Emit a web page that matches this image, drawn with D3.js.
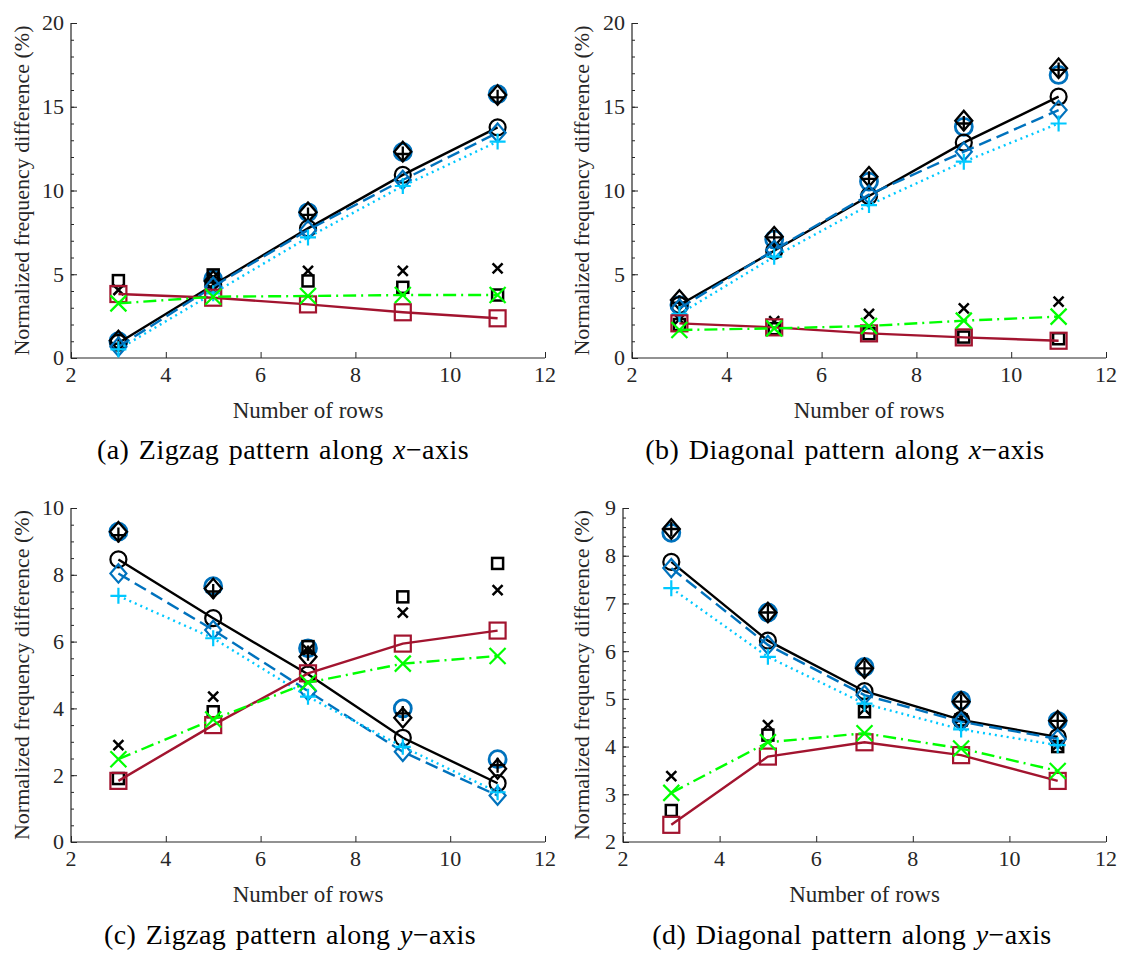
<!DOCTYPE html>
<html>
<head>
<meta charset="utf-8">
<script src="https://cdn.jsdelivr.net/npm/d3@7"></script>
<style>
  html, body { margin: 0; padding: 0; background: #fff; }
  svg { display: block; }
  .tick-label, .axis-title { font-family: "Liberation Serif", serif; fill: #262626; }
  .caption { font-family: "Liberation Serif", serif; fill: #000; }
</style>
</head>
<body>
<svg id="fig" width="1123" height="954"></svg>
<script>
// Number of rows on the x axis (shared by all four panels)
const rows = [3, 5, 7, 9, 11];
const xTicks = [2, 4, 6, 8, 10, 12];

// (a) Zigzag pattern along x-axis
const aCircle     = [0.90, 4.36, 7.74, 10.93, 13.77];
const aDiamond    = [0.67, 4.26, 7.64, 10.63, 13.45];
const aPlus       = [0.52, 3.86, 7.20, 10.27, 12.92];
const aSquare     = [3.82, 3.60, 3.20, 2.73, 2.37];
const aCross      = [3.26, 3.66, 3.70, 3.76, 3.76];
const aRefCircle  = [1.00, 4.70, 8.70, 12.30, 15.75];
const aRefDiamond = [1.05, 4.60, 8.70, 12.32, 15.70];
const aRefPlus    = [0.85, 4.50, 8.54, 12.18, 15.56];
const aRefSquare  = [4.62, 4.96, 4.60, 4.22, 3.76];
const aRefCross   = [4.06, 4.80, 5.20, 5.20, 5.35];

// (b) Diagonal pattern along x-axis
const bCircle     = [3.16, 6.40, 9.67, 12.86, 15.60];
const bDiamond    = [2.96, 6.45, 9.75, 12.32, 14.80];
const bPlus       = [2.63, 6.05, 9.13, 11.72, 14.00];
const bSquare     = [2.07, 1.83, 1.47, 1.23, 1.03];
const bCross      = [1.67, 1.77, 1.91, 2.23, 2.47];
const bRefCircle  = [3.16, 7.08, 10.53, 13.80, 16.90];
const bRefDiamond = [3.46, 7.24, 10.82, 14.17, 17.30];
const bRefPlus    = [3.30, 7.20, 10.70, 14.00, 17.20];
const bRefSquare  = [2.00, 1.75, 1.45, 1.25, 1.15];
const bRefCross   = [2.30, 2.20, 2.63, 2.96, 3.36];

// (c) Zigzag pattern along y-axis
const cCircle     = [8.46, 6.70, 5.02, 3.12, 1.76];
const cDiamond    = [8.04, 6.35, 4.52, 2.70, 1.39];
const cPlus       = [7.37, 6.10, 4.35, 2.85, 1.49];
const cSquare     = [1.83, 3.50, 5.05, 5.94, 6.33];
const cCross      = [2.48, 3.67, 4.77, 5.34, 5.57];
const cRefCircle  = [9.29, 7.66, 5.80, 4.00, 2.48];
const cRefDiamond = [9.29, 7.59, 5.55, 3.72, 2.19];
const cRefPlus    = [9.19, 7.50, 5.65, 3.85, 2.30];
const cRefSquare  = [1.90, 3.90, 5.85, 7.34, 8.34];
const cRefCross   = [2.90, 4.35, 5.75, 6.87, 7.54];

// (d) Diagonal pattern along y-axis
const dCircle     = [7.87, 6.22, 5.16, 4.56, 4.20];
const dDiamond    = [7.74, 6.13, 5.08, 4.52, 4.16];
const dPlus       = [7.32, 5.88, 4.90, 4.36, 4.03];
const dSquare     = [2.36, 3.79, 4.09, 3.82, 3.28];
const dCross      = [3.03, 4.09, 4.28, 3.96, 3.49];
const dRefCircle  = [8.48, 6.81, 5.67, 4.97, 4.54];
const dRefDiamond = [8.56, 6.81, 5.64, 4.94, 4.54];
const dRefPlus    = [8.56, 6.81, 5.64, 4.94, 4.54];
const dRefSquare  = [2.66, 4.24, 4.73, 4.56, 4.00];
const dRefCross   = [3.38, 4.45, 4.78, 4.60, 4.03];

const xLabel = "Number of rows";
const yLabel = "Normalized frequency difference (%)";

// Colours
const BLACK = "#000000", BLUE = "#0072BD", CYAN = "#00C8FF", RED = "#A2142F", GREEN = "#00FF00", AXIS = "#262626";

// Panel layout (pixel frame of each axes box)
const panels = [
  { left: 71,  right: 545,  top: 23,  bottom: 358, yDomain: [0, 20], yStep: 5, yMinor: 1,   titleX: 21,  capX: 283, capY: 459,
    pre: "(a) Zigzag pattern along ", v: "x",
    lines: [aCircle, aDiamond, aPlus, aSquare, aCross], refs: [aRefCircle, aRefDiamond, aRefPlus, aRefSquare, aRefCross] },
  { left: 632, right: 1106, top: 23,  bottom: 358, yDomain: [0, 20], yStep: 5, yMinor: 1,   titleX: 581, capX: 845, capY: 459,
    pre: "(b) Diagonal pattern along ", v: "x",
    lines: [bCircle, bDiamond, bPlus, bSquare, bCross], refs: [bRefCircle, bRefDiamond, bRefPlus, bRefSquare, bRefCross] },
  { left: 71,  right: 545,  top: 508, bottom: 842, yDomain: [0, 10], yStep: 2, yMinor: 0.5, titleX: 21,  capX: 290, capY: 944,
    pre: "(c) Zigzag pattern along ", v: "y",
    lines: [cCircle, cDiamond, cPlus, cSquare, cCross], refs: [cRefCircle, cRefDiamond, cRefPlus, cRefSquare, cRefCross] },
  { left: 623, right: 1106, top: 508, bottom: 842, yDomain: [2, 9],  yStep: 1, yMinor: 0.2, titleX: 581, capX: 852, capY: 944,
    pre: "(d) Diagonal pattern along ", v: "y",
    lines: [dCircle, dDiamond, dPlus, dSquare, dCross], refs: [dRefCircle, dRefDiamond, dRefPlus, dRefSquare, dRefCross] }
];

// Styles of the five connected series
const lineStyles = [
  { color: BLACK, dash: null,            marker: "circle" },
  { color: BLUE,  dash: "13,6",          marker: "diamond" },
  { color: CYAN,  dash: "2,4",           marker: "plus" },
  { color: RED,   dash: null,            marker: "square" },
  { color: GREEN, dash: "13,5,2,5",      marker: "cross" }
];
// Styles of the five stand-alone marker series
const refStyles = [
  { color: BLUE,  marker: "circle",  size: 8.5, sw: 2.8 },
  { color: BLACK, marker: "diamond", size: 8.5, sw: 2.3 },
  { color: BLACK, marker: "plus",    size: 7.5, sw: 2.3 },
  { color: BLACK, marker: "square",  size: 5.5, sw: 2.5 },
  { color: BLACK, marker: "cross",   size: 5,   sw: 2.5 }
];

function drawMarker(g, type, cx, cy, s, color, sw) {
  let el;
  if (type === "circle") {
    el = g.append("circle").attr("cx", cx).attr("cy", cy).attr("r", s);
  } else if (type === "diamond") {
    const w = s, h = s * 1.15;
    el = g.append("path").attr("d", `M${cx},${cy - h}L${cx + w},${cy}L${cx},${cy + h}L${cx - w},${cy}Z`);
  } else if (type === "square") {
    el = g.append("rect").attr("x", cx - s).attr("y", cy - s).attr("width", 2 * s).attr("height", 2 * s);
  } else if (type === "plus") {
    el = g.append("path").attr("d", `M${cx - s},${cy}H${cx + s}M${cx},${cy - s}V${cy + s}`);
  } else {
    el = g.append("path").attr("d", `M${cx - s},${cy - s}L${cx + s},${cy + s}M${cx - s},${cy + s}L${cx + s},${cy - s}`);
  }
  el.attr("fill", "none").attr("stroke", color).attr("stroke-width", sw);
}

const svg = d3.select("#fig");

panels.forEach(p => {
  const x = d3.scaleLinear().domain([2, 12]).range([p.left, p.right]);
  const y = d3.scaleLinear().domain(p.yDomain).range([p.bottom, p.top]);
  const g = svg.append("g");

  // Minor y ticks
  const minorTicks = d3.range(p.yDomain[0], p.yDomain[1] + 1e-9, p.yMinor);
  g.append("g").attr("transform", `translate(${p.left},0)`)
    .call(d3.axisRight(y).tickValues(minorTicks).tickSize(3).tickFormat(""))
    .call(a => a.select(".domain").remove())
    .call(a => a.selectAll("line").attr("stroke", AXIS).attr("stroke-width", 1));

  // Major y ticks + labels
  const majorTicks = d3.range(p.yDomain[0], p.yDomain[1] + 1e-9, p.yStep);
  g.append("g").attr("transform", `translate(${p.left},0)`)
    .call(d3.axisRight(y).tickValues(majorTicks).tickSize(6).tickFormat(""))
    .call(a => a.select(".domain").remove())
    .call(a => a.selectAll("line").attr("stroke", AXIS).attr("stroke-width", 1));
  g.selectAll(".ylab").data(majorTicks).enter().append("text")
    .attr("class", "tick-label")
    .attr("x", p.left - 7).attr("y", d => y(d)).attr("dy", "0.34em")
    .attr("text-anchor", "end").attr("font-size", 22)
    .text(d => d3.format("d")(d));

  // x ticks + labels
  g.append("g").attr("transform", `translate(0,${p.bottom})`)
    .call(d3.axisTop(x).tickValues(xTicks).tickSize(6).tickFormat(""))
    .call(a => a.select(".domain").remove())
    .call(a => a.selectAll("line").attr("stroke", AXIS).attr("stroke-width", 1));
  g.selectAll(".xlab").data(xTicks).enter().append("text")
    .attr("class", "tick-label")
    .attr("x", d => x(d)).attr("y", p.bottom + 24)
    .attr("text-anchor", "middle").attr("font-size", 22)
    .text(d => d);

  // Axis lines (left and bottom)
  g.append("path")
    .attr("d", `M${p.left},${p.top}V${p.bottom}H${p.right}`)
    .attr("fill", "none").attr("stroke", AXIS).attr("stroke-width", 1.2);

  // Axis titles
  g.append("text").attr("class", "axis-title")
    .attr("x", (p.left + p.right) / 2).attr("y", p.bottom + 60)
    .attr("text-anchor", "middle").attr("font-size", 23)
    .text(xLabel);
  g.append("text").attr("class", "axis-title")
    .attr("transform", `translate(${p.titleX},${(p.top + p.bottom) / 2}) rotate(-90)`)
    .attr("dy", "0.35em")
    .attr("text-anchor", "middle").attr("font-size", 22)
    .text(yLabel);

  // Stand-alone marker series
  p.refs.forEach((vals, i) => {
    const st = refStyles[i];
    vals.forEach((v, k) => drawMarker(g, st.marker, x(rows[k]), y(v), st.size, st.color, st.sw));
  });

  // Connected series with markers
  const line = d3.line().x((d, k) => x(rows[k])).y(d => y(d));
  p.lines.forEach((vals, i) => {
    const st = lineStyles[i];
    g.append("path").datum(vals).attr("d", line)
      .attr("fill", "none").attr("stroke", st.color).attr("stroke-width", 2.4)
      .attr("stroke-dasharray", st.dash);
    vals.forEach((v, k) => drawMarker(g, st.marker, x(rows[k]), y(v), 8, st.color, 2.2));
  });

  // Sub-figure caption
  const cap = g.append("text").attr("class", "caption")
    .attr("x", p.capX).attr("y", p.capY).attr("text-anchor", "middle")
    .attr("font-size", 28).attr("letter-spacing", 0.45).attr("word-spacing", 2);
  cap.append("tspan").text(p.pre);
  cap.append("tspan").attr("font-style", "italic").text(p.v);
  cap.append("tspan").text("\u2212axis");
});
</script>
</body>
</html>
